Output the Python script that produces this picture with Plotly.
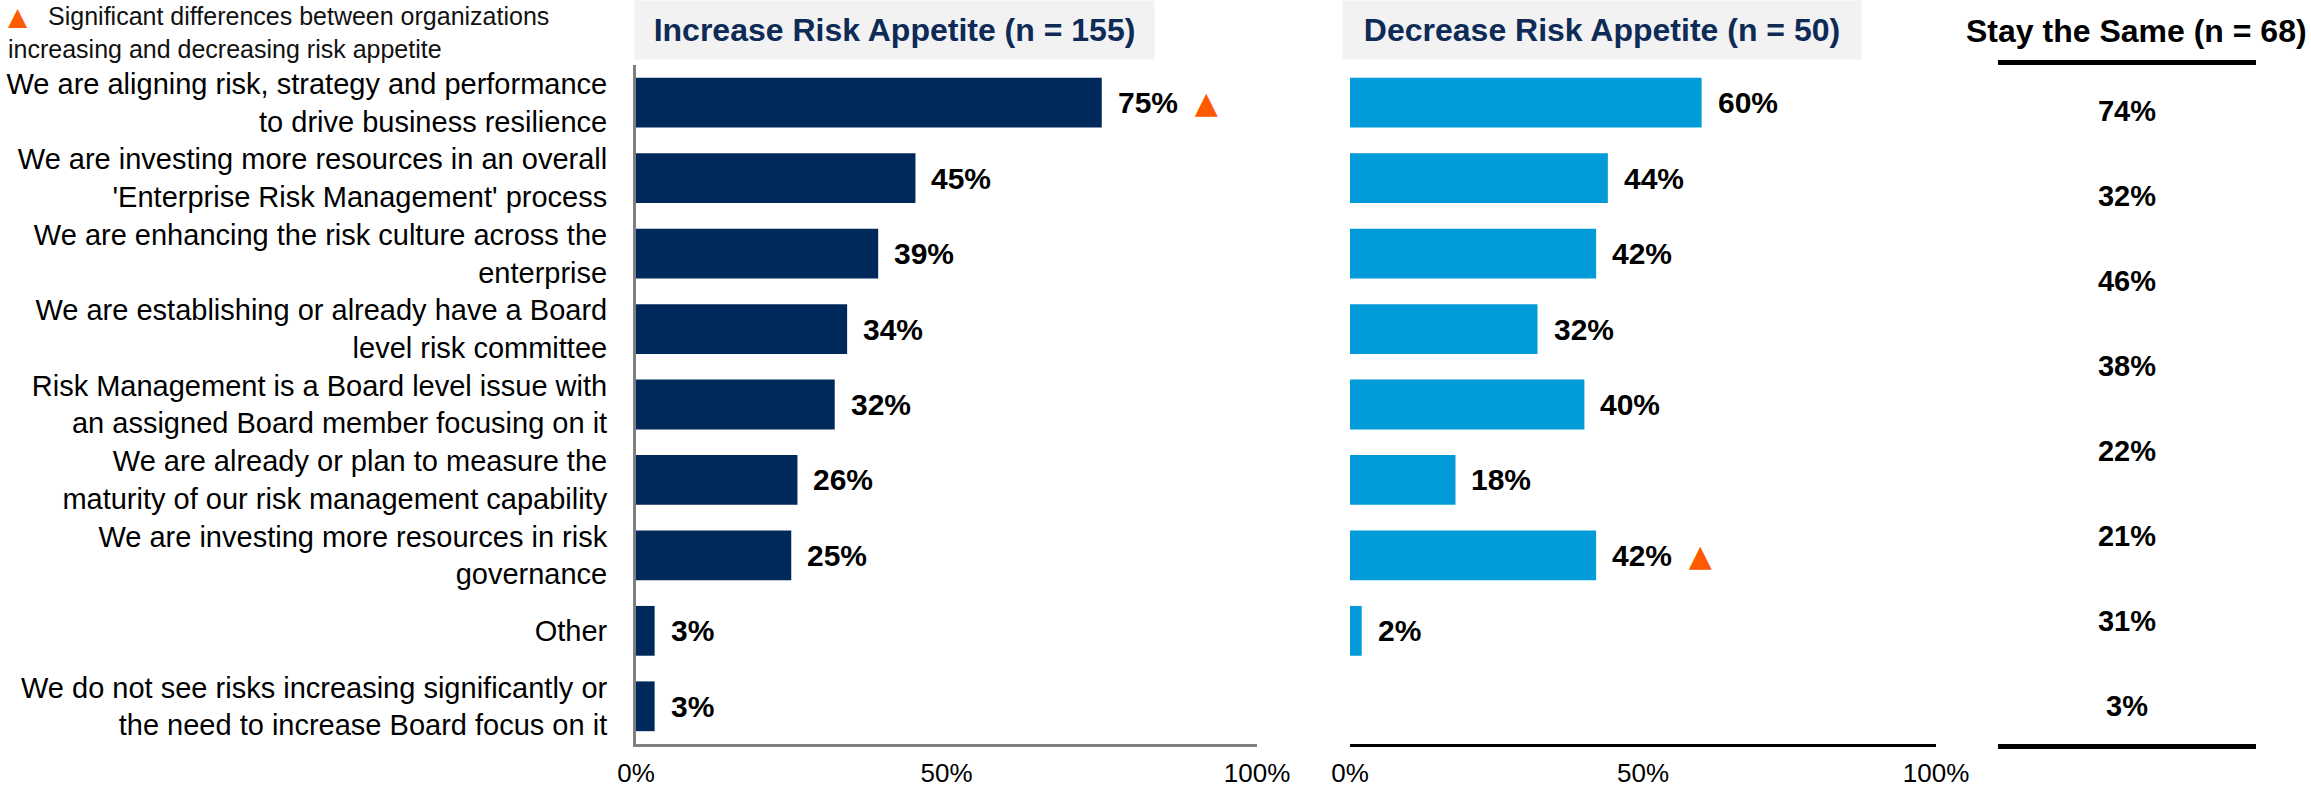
import plotly.graph_objects as go

W, H = 2311, 788

categories = [
    "We are aligning risk, strategy and performance<br>to drive business resilience",
    "We are investing more resources in an overall<br>'Enterprise Risk Management' process",
    "We are enhancing the risk culture across the<br>enterprise",
    "We are establishing or already have a Board<br>level risk committee",
    "Risk Management is a Board level issue with<br>an assigned Board member focusing on it",
    "We are already or plan to measure the<br>maturity of our risk management capability",
    "We are investing more resources in risk<br>governance",
    "Other",
    "We do not see risks increasing significantly or<br>the need to increase Board focus on it",
]
increase_vals = [75, 45, 39, 34, 32, 26, 25, 3, 3]
decrease_vals = [60, 44, 42, 32, 40, 18, 42, 2, None]
increase_sig = [True, False, False, False, False, False, False, False, False]
decrease_sig = [False, False, False, False, False, False, True, False, False]
stay_vals = [74, 32, 46, 38, 22, 21, 31, 3]

tick_vals = [0, 50, 100]
tick_text = ["0%", "50%", "100%"]

title_increase = "Increase Risk Appetite (n = 155)"
title_decrease = "Decrease Risk Appetite (n = 50)"
title_stay = "Stay the Same (n = 68)"
legend_text = "Significant differences between organizations<br>increasing and decreasing risk appetite"

NAVY = "#00295B"
BLUE = "#009BD8"
ORANGE = "#FF5A00"
HEAD = "#0D2B56"
FONT = "Liberation Sans, Arial, sans-serif"
TRI = f"<span style='color:{ORANGE};font-size:30px;font-family:DejaVu Sans'>▲</span>"

def px_x(p):
    return p / W

def px_y(p):
    return 1 - p / H

x1_dom = [px_x(636), px_x(1257)]
x2_dom = [px_x(1350), px_x(1936)]
x3_dom = [px_x(1998), px_x(2256)]
y_dom = [px_y(744), px_y(65)]

fig = go.Figure()

fig.add_trace(go.Bar(x=increase_vals, y=categories, orientation="h",
                     marker=dict(color=NAVY, line=dict(width=0)),
                     xaxis="x", yaxis="y", hoverinfo="skip", showlegend=False))
fig.add_trace(go.Bar(x=decrease_vals, y=categories, orientation="h",
                     marker=dict(color=BLUE, line=dict(width=0)),
                     xaxis="x2", yaxis="y2", hoverinfo="skip", showlegend=False))
fig.add_trace(go.Scatter(x=[50] * len(stay_vals), y=list(range(len(stay_vals))),
                         mode="text", text=[f"{v}%" for v in stay_vals],
                         textfont=dict(family=FONT, size=29, color="#000000", weight="bold"),
                         textposition="middle center",
                         xaxis="x3", yaxis="y3", hoverinfo="skip", showlegend=False))

annotations = []
def value_label(v, sig):
    t = f"{v}%"
    if sig:
        t += "  " + TRI
    return t

for cat, v, s in zip(categories, increase_vals, increase_sig):
    if v is None:
        continue
    annotations.append(dict(x=v, y=cat, xref="x", yref="y", text=value_label(v, s),
                            showarrow=False, xanchor="left", yanchor="middle", xshift=14,
                            font=dict(family=FONT, size=30, color="#000000", weight="bold")))
for cat, v, s in zip(categories, decrease_vals, decrease_sig):
    if v is None:
        continue
    annotations.append(dict(x=v, y=cat, xref="x2", yref="y2", text=value_label(v, s),
                            showarrow=False, xanchor="left", yanchor="middle", xshift=14,
                            font=dict(family=FONT, size=30, color="#000000", weight="bold")))

# headers
annotations.append(dict(x=px_x(895), y=1, xref="paper", yref="paper", xanchor="center", yanchor="top",
                        text=f"<b>{title_increase}</b>", showarrow=False, width=517, height=56,
                        bgcolor="#F2F2F2", font=dict(family=FONT, size=32, color=HEAD)))
annotations.append(dict(x=px_x(1602), y=1, xref="paper", yref="paper", xanchor="center", yanchor="top",
                        text=f"<b>{title_decrease}</b>", showarrow=False, width=516, height=56,
                        bgcolor="#F2F2F2", font=dict(family=FONT, size=32, color=HEAD)))
annotations.append(dict(x=px_x(2136), y=px_y(31), xref="paper", yref="paper", xanchor="center", yanchor="middle",
                        text=f"<b>{title_stay}</b>", showarrow=False,
                        font=dict(family=FONT, size=32, color="#000000")))
# significance legend
annotations.append(dict(x=px_x(6), y=1, xref="paper", yref="paper", xanchor="left", yanchor="top",
                        align="left", showarrow=False,
                        text=f"<span style='color:{ORANGE};font-family:DejaVu Sans'>▲</span>   {legend_text}",
                        font=dict(family=FONT, size=25, color="#111111")))

fig.update_layout(
    width=W, height=H,
    margin=dict(l=0, r=0, t=0, b=0, autoexpand=False),
    paper_bgcolor="white", plot_bgcolor="white",
    bargap=0.34,
    font=dict(family=FONT, color="#000000"),
    annotations=annotations,
    xaxis=dict(domain=x1_dom, range=[0, 100], tickvals=tick_vals, ticktext=tick_text,
               showgrid=False, zeroline=False, showline=True, linecolor="#7F7F7F", linewidth=3,
               ticks="", ticklabelstandoff=4, tickfont=dict(family=FONT, size=26, color="#000000"),
               anchor="y", fixedrange=True, automargin=False),
    yaxis=dict(domain=y_dom, type="category", categoryorder="array", categoryarray=categories,
               range=[len(categories) - 0.5, -0.5], showgrid=False, zeroline=False,
               showline=True, linecolor="#7F7F7F", linewidth=3, ticks="",
               ticklabelstandoff=20, tickfont=dict(family=FONT, size=29, color="#000000"),
               anchor="x", fixedrange=True, automargin=False),
    xaxis2=dict(domain=x2_dom, range=[0, 100], tickvals=tick_vals, ticktext=tick_text,
                showgrid=False, zeroline=False, showline=True, linecolor="#000000", linewidth=3,
                ticks="", ticklabelstandoff=4, tickfont=dict(family=FONT, size=26, color="#000000"),
                anchor="y2", fixedrange=True, automargin=False),
    yaxis2=dict(domain=y_dom, type="category", categoryorder="array", categoryarray=categories,
                range=[len(categories) - 0.5, -0.5], showgrid=False, zeroline=False,
                showline=False, showticklabels=False, ticks="", anchor="x2", fixedrange=True,
                automargin=False),
    xaxis3=dict(domain=x3_dom, range=[0, 100], showgrid=False, zeroline=False, showline=True,
                mirror=True, linecolor="#000000", linewidth=5, showticklabels=False, ticks="",
                anchor="y3", fixedrange=True, automargin=False),
    yaxis3=dict(domain=y_dom, range=[len(stay_vals) - 0.58, -0.58], showgrid=False, zeroline=False,
                showline=False, showticklabels=False, ticks="", anchor="x3", fixedrange=True,
                automargin=False),
)

fig.write_html("out.html", config={"displayModeBar": False},
               post_script="document.body.style.margin='0';")
